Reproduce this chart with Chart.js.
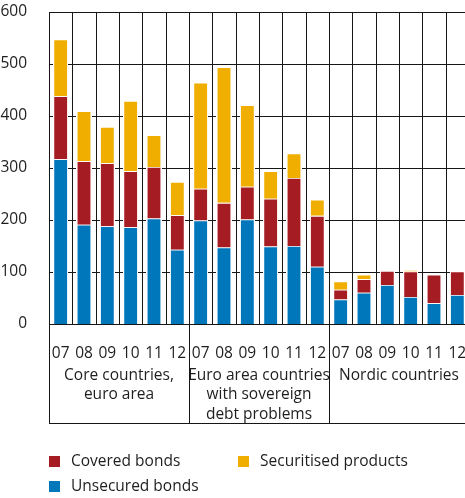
<!DOCTYPE html>
<html>
<head>
<meta charset="utf-8">
<script src="https://cdn.jsdelivr.net/npm/chart.js@4/dist/chart.umd.min.js"></script>
<style>
  html, body { margin: 0; padding: 0; background: #fff; overflow: hidden; }
  canvas { display: block; }
</style>
</head>
<body>
<canvas id="chart" width="475" height="498"></canvas>
<script>
const years = ['07', '08', '09', '10', '11', '12'];
const groups = [['Core countries,', 'euro area'], ['Euro area countries', 'with sovereign', 'debt problems'], ['Nordic countries']];
const labels = groups.flatMap(() => years);

// billions, stacked from the bottom: unsecured, covered, securitised
const unsecured = [317, 191, 188, 186, 203, 143, 199, 147, 201, 149, 150, 110, 47, 60, 75, 52, 40, 56];
const covered = [121, 122, 121, 108, 99, 66, 61, 86, 63, 92, 131, 98, 19, 26, 27, 49, 55, 45];
const securitised = [109, 96, 70, 135, 61, 64, 204, 261, 157, 53, 47, 31, 16, 9, 0, 3, 0, 0];

const FONT = '"Open Sans", "Noto Sans", sans-serif';
const TEXT = '#1e1e1e';
const LINE = '#161616';

// grid, group dividers under the axis, group names and the legend
const extras = {
  id: 'extras',
  afterDraw(chart) {
    const { ctx, chartArea: a, scales: { x, y } } = chart;
    const metas = chart.getSortedVisibleDatasetMetas();
    // extent of every stacked column, so the grid stays behind the bars
    const cols = labels.map((_, i) => {
      const els = metas.map(m => m.data[i]);
      const top = Math.min(...els.map(e => Math.min(e.y, e.base)));
      return { l: Math.floor(els[0].x - els[0].width / 2), r: Math.ceil(els[0].x + els[0].width / 2), top };
    });
    const left = Math.round(a.left);
    const right = Math.round(a.right);
    const bottom = 423;

    ctx.save();
    ctx.fillStyle = LINE;
    const hline = (x0, x1, py) => { if (x1 > x0) ctx.fillRect(x0, py, x1 - x0, 1); };
    y.ticks.forEach(t => {
      const py = Math.round(y.getPixelForValue(t.value));
      let from = left;
      if (t.value > 0) {
        cols.forEach(c => {
          if (c.top < py) {
            hline(from, c.l, py);
            from = c.r;
          }
        });
      }
      hline(from, right + 1, py);
    });
    for (let i = 0; i <= labels.length; i++) {
      const px = Math.round(x.getPixelForValue(i - 0.5));
      const end = i % years.length === 0 ? bottom : Math.round(a.bottom);
      ctx.fillRect(px, Math.round(a.top), 1, end - Math.round(a.top));
    }
    hline(left, right + 1, bottom);

    ctx.fillStyle = TEXT;
    ctx.font = '15.5px ' + FONT;
    ctx.textAlign = 'center';
    ctx.textBaseline = 'middle';
    groups.forEach((lines, g) => {
      const i0 = g * years.length;
      const cx = (x.getPixelForValue(i0) + x.getPixelForValue(i0 + years.length - 1)) / 2;
      lines.forEach((t, k) => ctx.fillText(t, cx, 375.5 + k * 19.5));
    });

    // legend: two columns, covered and securitised on top
    const ds = chart.data.datasets;
    const items = [[ds[1], 49, 461.5], [ds[2], 238, 461.5], [ds[0], 49, 486.5]];
    ctx.textAlign = 'left';
    items.forEach(([d, lx, ly]) => {
      ctx.fillStyle = d.backgroundColor;
      ctx.fillRect(lx, ly - 5.5, 11, 11);
      ctx.fillStyle = TEXT;
      ctx.fillText(d.label, lx + 22, ly);
    });
    ctx.restore();
  }
};

new Chart(document.getElementById('chart'), {
  type: 'bar',
  data: {
    labels,
    datasets: [
      { label: 'Unsecured bonds', data: unsecured, backgroundColor: '#0076bb' },
      { label: 'Covered bonds', data: covered, backgroundColor: '#a51d23' },
      { label: 'Securitised products', data: securitised, backgroundColor: '#efae00' }
    ]
  },
  options: {
    responsive: false,
    animation: false,
    events: [],
    layout: { padding: { top: 12, right: 6, left: 0, bottom: 0 } },
    datasets: {
      bar: {
        categoryPercentage: 1,
        barPercentage: 0.62,
        borderColor: 'rgba(255,255,255,0.55)',
        borderWidth: 0.8
      }
    },
    scales: {
      x: {
        stacked: true,
        grid: { display: false },
        border: { display: false },
        ticks: { color: TEXT, font: { family: FONT, size: 15.5 }, padding: 12, maxRotation: 0, autoSkip: false },
        afterFit(s) { s.height = 174; s.paddingLeft = 0; s.paddingRight = 0; }
      },
      y: {
        stacked: true,
        min: 0,
        max: 600,
        grid: { display: false },
        border: { display: false },
        ticks: { stepSize: 100, color: TEXT, font: { family: FONT, size: 15.5 }, padding: 14 },
        afterFit(s) { s.width = 49; s.paddingTop = 0; s.paddingBottom = 0; }
      }
    },
    plugins: {
      legend: { display: false },
      tooltip: { enabled: false }
    }
  },
  plugins: [extras]
});
</script>
</body>
</html>
